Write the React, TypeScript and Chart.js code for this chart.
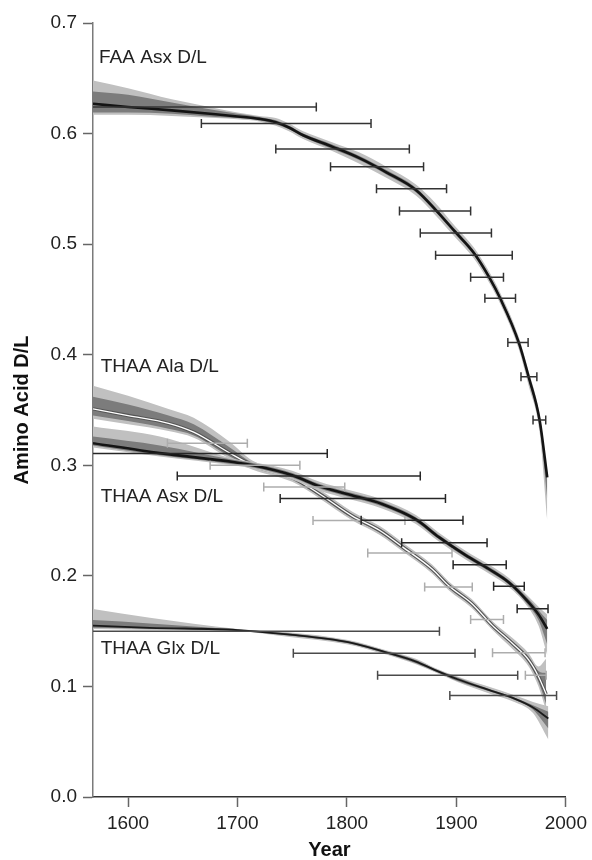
import React, { useEffect, useRef } from "react";
import { Chart, registerables } from "chart.js";

Chart.register(...registerables);

const FONT = '"Liberation Sans", Arial, Helvetica, sans-serif';
const LIGHT = "#c0c0c0";
const DARK = "#7c7c7c";

// ---------- FAA Asx D/L ----------
const faaYears = [1568, 1600, 1640, 1680, 1700, 1720, 1735, 1747, 1760, 1787, 1811, 1836, 1863, 1881, 1899, 1916, 1930, 1940, 1957, 1966, 1976, 1983];
const faaMean = [0.627, 0.624, 0.621, 0.6175, 0.6155, 0.6133, 0.6103, 0.6055, 0.5985, 0.588, 0.578, 0.565, 0.549, 0.531, 0.511, 0.492, 0.47, 0.451, 0.411, 0.38, 0.341, 0.289];
const faaLightHi = [0.648, 0.641, 0.631, 0.623, 0.619, 0.616, 0.614, 0.609, 0.602, 0.592, 0.583, 0.57, 0.554, 0.537, 0.516, 0.497, 0.475, 0.456, 0.416, 0.385, 0.346, 0.292];
const faaLightLo = [0.617, 0.617, 0.616, 0.614, 0.613, 0.611, 0.607, 0.602, 0.595, 0.584, 0.573, 0.56, 0.544, 0.526, 0.506, 0.487, 0.465, 0.446, 0.405, 0.372, 0.33, 0.25];
const faaDarkHi = [0.638, 0.635, 0.628, 0.621, 0.618, 0.615, 0.612, 0.607, 0.6, 0.59, 0.58, 0.567, 0.551, 0.533, 0.513, 0.494, 0.472, 0.453, 0.413, 0.382, 0.343, 0.29];
const faaDarkLo = [0.619, 0.619, 0.618, 0.615, 0.614, 0.612, 0.6085, 0.604, 0.597, 0.586, 0.576, 0.563, 0.547, 0.529, 0.509, 0.49, 0.468, 0.449, 0.409, 0.377, 0.336, 0.27];
const faaErrY = [0.624, 0.609, 0.586, 0.57, 0.55, 0.53, 0.51, 0.49, 0.47, 0.451, 0.411, 0.38, 0.341];
const faaErrLo = [1540, 1667, 1735, 1785, 1827, 1848, 1867, 1881, 1913, 1926, 1947, 1959, 1970];
const faaErrHi = [1772, 1822, 1857, 1870, 1891, 1913, 1932, 1951, 1943, 1954, 1965.5, 1973.5, 1981.6];

// ---------- THAA Ala D/L ----------
const alaYears = [1568, 1600, 1637, 1660, 1693, 1714, 1750, 1775, 1805, 1830, 1851, 1878, 1893, 1914, 1933, 1951, 1966, 1975, 1982];
const alaMean = [0.351, 0.345, 0.338, 0.33, 0.311, 0.3, 0.289, 0.274, 0.254, 0.241, 0.226, 0.206, 0.191, 0.175, 0.155, 0.139, 0.124, 0.109, 0.093];
const alaLightHi = [0.372, 0.363, 0.351, 0.343, 0.321, 0.304, 0.293, 0.278, 0.258, 0.245, 0.23, 0.21, 0.195, 0.179, 0.159, 0.144, 0.13, 0.118, 0.125];
const alaLightLo = [0.342, 0.337, 0.331, 0.325, 0.306, 0.296, 0.285, 0.27, 0.25, 0.237, 0.222, 0.202, 0.187, 0.171, 0.151, 0.134, 0.118, 0.1, 0.078];
const alaDarkHi = [0.362, 0.355, 0.345, 0.337, 0.316, 0.302, 0.291, 0.276, 0.256, 0.243, 0.228, 0.208, 0.193, 0.177, 0.157, 0.141, 0.127, 0.114, 0.112];
const alaDarkLo = [0.345, 0.34, 0.333, 0.327, 0.308, 0.298, 0.287, 0.272, 0.252, 0.239, 0.224, 0.204, 0.189, 0.173, 0.153, 0.137, 0.121, 0.104, 0.084];
const alaErrY = [0.32, 0.3, 0.2804, 0.25, 0.2206, 0.19, 0.1606, 0.1305, 0.11];
const alaErrLo = [1636, 1675, 1724, 1769, 1819, 1871, 1913, 1933, 1963];
const alaErrHi = [1709, 1757, 1798, 1853, 1896, 1914.5, 1943, 1981, 1982];

// ---------- THAA Asx D/L ----------
const asxYears = [1568, 1629, 1696, 1714, 1750, 1775, 1800, 1832, 1863, 1884, 1908, 1930, 1948, 1966, 1975, 1983];
const asxMean = [0.32, 0.311, 0.303, 0.3, 0.291, 0.281, 0.274, 0.265, 0.251, 0.235, 0.219, 0.206, 0.194, 0.176, 0.165, 0.152];
const asxLightHi = [0.335, 0.326, 0.306, 0.303, 0.295, 0.285, 0.278, 0.269, 0.255, 0.239, 0.223, 0.21, 0.198, 0.181, 0.172, 0.165];
const asxLightLo = [0.316, 0.308, 0.3, 0.297, 0.287, 0.277, 0.27, 0.261, 0.247, 0.231, 0.215, 0.202, 0.19, 0.171, 0.155, 0.128];
const asxDarkHi = [0.326, 0.318, 0.305, 0.302, 0.293, 0.283, 0.276, 0.267, 0.253, 0.237, 0.221, 0.208, 0.196, 0.179, 0.169, 0.16];
const asxDarkLo = [0.318, 0.309, 0.301, 0.298, 0.289, 0.279, 0.272, 0.263, 0.249, 0.233, 0.217, 0.204, 0.192, 0.173, 0.16, 0.138];
const asxErrY = [0.3106, 0.2903, 0.2699, 0.2503, 0.23, 0.21, 0.1905, 0.1703];
const asxErrLo = [1540, 1645, 1739, 1813, 1850, 1897, 1934, 1955.5];
const asxErrHi = [1782, 1867, 1890, 1906, 1928, 1945.5, 1962, 1983.7];

// ---------- THAA Glx D/L ----------
const glxYears = [1568, 1620, 1700, 1746, 1801, 1835, 1863, 1880, 1901, 1932, 1953, 1970, 1984];
const glxMean = [0.155, 0.153, 0.151, 0.147, 0.14, 0.131, 0.1225, 0.115, 0.1065, 0.096, 0.089, 0.081, 0.071];
const glxLightHi = [0.17, 0.162, 0.152, 0.149, 0.142, 0.133, 0.125, 0.117, 0.109, 0.099, 0.092, 0.086, 0.082];
const glxLightLo = [0.152, 0.151, 0.15, 0.145, 0.138, 0.129, 0.12, 0.113, 0.104, 0.093, 0.086, 0.076, 0.052];
const glxDarkHi = [0.16, 0.157, 0.1515, 0.148, 0.141, 0.132, 0.124, 0.116, 0.108, 0.097, 0.09, 0.083, 0.077];
const glxDarkLo = [0.153, 0.152, 0.1505, 0.146, 0.139, 0.13, 0.121, 0.114, 0.105, 0.095, 0.088, 0.079, 0.062];
const glxErrY = [0.15, 0.13, 0.11, 0.0919];
const glxErrLo = [1540, 1751, 1828, 1894];
const glxErrHi = [1884.5, 1917, 1956, 1991.5];

// ---------- axes & labels ----------
const xTicks = [1600, 1700, 1800, 1900, 2000];
const yTicks = [0, 0.1, 0.2, 0.3, 0.4, 0.5, 0.6, 0.7];
const seriesLabels = ["FAA Asx D/L", "THAA Ala D/L", "THAA Asx D/L", "THAA Glx D/L"];
const labelYears = [1573.5, 1575, 1575, 1575];
const labelValues = [0.6638, 0.3844, 0.2668, 0.129];

const pts = (xs: number[], ys: number[]) => xs.map((x, i) => ({ x, y: ys[i] }));

const lineDs = (data: any, color: string, width: number) => ({
  data,
  borderColor: color,
  borderWidth: width,
  pointRadius: 0,
  fill: false,
  cubicInterpolationMode: "monotone",
});

const bandDs = (years: number[], hi: number[], lo: number[], color: string) => [
  {
    data: pts(years, hi),
    borderWidth: 0,
    borderColor: "rgba(0,0,0,0)",
    backgroundColor: color,
    pointRadius: 0,
    fill: "+1",
    cubicInterpolationMode: "monotone",
  },
  {
    data: pts(years, lo),
    borderWidth: 0,
    borderColor: "rgba(0,0,0,0)",
    pointRadius: 0,
    fill: false,
    cubicInterpolationMode: "monotone",
  },
];

const errorGroups = [
  { y: faaErrY, lo: faaErrLo, hi: faaErrHi, color: "#333333" },
  { y: alaErrY, lo: alaErrLo, hi: alaErrHi, color: "#adadad" },
  { y: asxErrY, lo: asxErrLo, hi: asxErrHi, color: "#262626" },
  { y: glxErrY, lo: glxErrLo, hi: glxErrHi, color: "#4a4a4a" },
];

const errorBarPlugin = {
  id: "errorBars",
  afterDatasetsDraw(chart: any) {
    const { ctx, chartArea, scales } = chart;
    const xs = scales.x;
    const ys = scales.y;
    ctx.save();
    ctx.beginPath();
    ctx.rect(chartArea.left, chartArea.top - 10, chartArea.right - chartArea.left + 10, chartArea.bottom - chartArea.top + 10);
    ctx.clip();
    ctx.lineWidth = 1.5;
    errorGroups.forEach((g) => {
      ctx.strokeStyle = g.color;
      g.y.forEach((v, i) => {
        const py = ys.getPixelForValue(v);
        const x1 = xs.getPixelForValue(g.lo[i]);
        const x2 = xs.getPixelForValue(g.hi[i]);
        ctx.beginPath();
        ctx.moveTo(x1, py);
        ctx.lineTo(x2, py);
        ctx.moveTo(x1, py - 4.5);
        ctx.lineTo(x1, py + 4.5);
        ctx.moveTo(x2, py - 4.5);
        ctx.lineTo(x2, py + 4.5);
        ctx.stroke();
      });
    });
    ctx.restore();
  },
};

const labelPlugin = {
  id: "seriesLabels",
  afterDraw(chart: any) {
    const { ctx, scales } = chart;
    ctx.save();
    ctx.font = `19px ${FONT}`;
    ctx.fillStyle = "#222222";
    ctx.textAlign = "left";
    ctx.textBaseline = "alphabetic";
    seriesLabels.forEach((t, i) => {
      ctx.fillText(t, scales.x.getPixelForValue(labelYears[i]), scales.y.getPixelForValue(labelValues[i]));
    });
    ctx.restore();
  },
};

export default function App() {
  const ref = useRef<HTMLCanvasElement>(null);

  useEffect(() => {
    if (!ref.current) return;
    const datasets: any[] = [
      // FAA (top)
      lineDs(pts(faaYears, faaMean), "#141414", 2.6),
      ...bandDs(faaYears, faaDarkHi, faaDarkLo, DARK),
      ...bandDs(faaYears, faaLightHi, faaLightLo, LIGHT),
      // Asx
      lineDs(pts(asxYears, asxMean), "#141414", 2.6),
      ...bandDs(asxYears, asxDarkHi, asxDarkLo, DARK),
      ...bandDs(asxYears, asxLightHi, asxLightLo, LIGHT),
      // Glx
      lineDs(pts(glxYears, glxMean), "#1a1a1a", 1.8),
      ...bandDs(glxYears, glxDarkHi, glxDarkLo, DARK),
      ...bandDs(glxYears, glxLightHi, glxLightLo, LIGHT),
      // Ala (white line with dark edge)
      lineDs(pts(alaYears, alaMean), "#ffffff", 1.3),
      lineDs(pts(alaYears, alaMean), "#555555", 3.4),
      ...bandDs(alaYears, alaDarkHi, alaDarkLo, DARK),
      ...bandDs(alaYears, alaLightHi, alaLightLo, LIGHT),
    ];

    const chart = new Chart(ref.current, {
      type: "line",
      data: { datasets },
      plugins: [errorBarPlugin, labelPlugin],
      options: {
        animation: false,
        responsive: false,
        devicePixelRatio: 1,
        layout: { padding: { top: 23, right: 25, left: 0, bottom: 0 } },
        plugins: { legend: { display: false }, tooltip: { enabled: false } },
        elements: { line: { tension: 0 } },
        scales: {
          x: {
            type: "linear",
            min: 1568,
            max: 2000,
            afterBuildTicks: (axis: any) => {
              axis.ticks = xTicks.map((v) => ({ value: v }));
            },
            afterFit: (axis: any) => {
              axis.height = 63;
            },
            grid: { drawOnChartArea: false, drawTicks: true, tickLength: 10, tickWidth: 1.5, tickColor: "#666666" },
            border: { display: true, color: "#333333", width: 1.5 },
            ticks: {
              color: "#222222",
              font: { family: FONT, size: 19 },
              padding: 5,
              maxRotation: 0,
              callback: (v: any) => String(v),
            },
            title: {
              display: true,
              text: "Year",
              color: "#111111",
              font: { family: FONT, size: 20, weight: "bold", lineHeight: 1 },
              padding: 0,
            },
          },
          y: {
            type: "linear",
            min: 0,
            max: 0.7,
            afterBuildTicks: (axis: any) => {
              axis.ticks = yTicks.map((v) => ({ value: v }));
            },
            afterFit: (axis: any) => {
              axis.width = 93;
            },
            grid: { drawOnChartArea: false, drawTicks: true, tickLength: 10, tickWidth: 1.5, tickColor: "#666666" },
            border: { display: true, color: "#7a7a7a", width: 1.5 },
            ticks: {
              color: "#222222",
              font: { family: FONT, size: 19 },
              padding: 6,
              callback: (v: any) => Number(v).toFixed(1),
            },
            title: {
              display: true,
              text: "Amino Acid D/L",
              color: "#111111",
              font: { family: FONT, size: 20, weight: "bold", lineHeight: 1 },
              padding: { top: 12, bottom: 0 },
            },
          },
        },
      } as any,
    });
    return () => chart.destroy();
  }, []);

  return (
    <div style={{ position: "fixed", left: 0, top: 0, width: 592, height: 860, background: "#fff" }}>
      <canvas ref={ref} width={592} height={860} style={{ width: 592, height: 860, display: "block" }} />
    </div>
  );
}
